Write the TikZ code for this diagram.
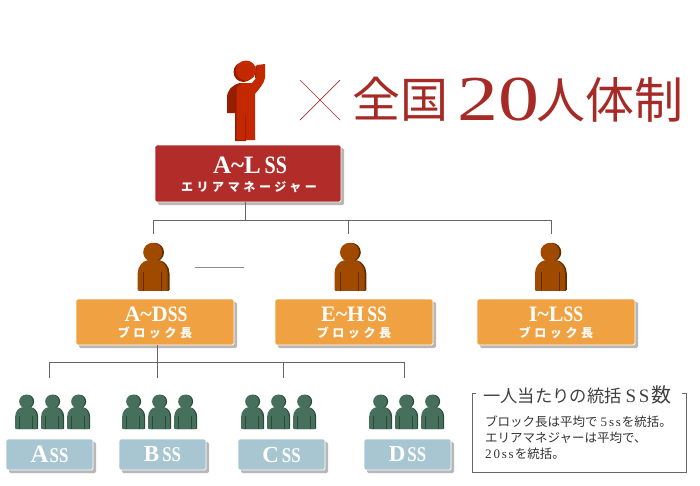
\documentclass[tikz,border=0pt]{standalone}
\usepackage{fontspec}
\usetikzlibrary{shadows}
\setmainfont{Liberation Serif}
\newfontfamily\jp{Noto Sans CJK JP}
\newfontfamily\jpwide[LetterSpace=30]{Noto Sans CJK JP}
\newfontfamily\ssf[FakeStretch=0.8]{Liberation Serif}
\newfontfamily\numf[FakeStretch=1.28]{Liberation Serif}
\newfontfamily\wider[LetterSpace=14]{Liberation Serif}
\definecolor{redbox}{HTML}{B22D2A}
\definecolor{orangebox}{HTML}{F0A243}
\definecolor{bluebox}{HTML}{A8C6D2}
\definecolor{titlered}{HTML}{A62B26}
\definecolor{linegray}{HTML}{666666}
\definecolor{orangep}{HTML}{A04A00}
\definecolor{orangepd}{HTML}{5E2E00}
\definecolor{greenp}{HTML}{47705C}
\definecolor{greenpd}{HTML}{2A4A3A}
\definecolor{redpf}{HTML}{C32800}
\definecolor{redpd}{HTML}{961E00}
\newcommand{\personshape}[4]{%
 \begin{scope}[shift={(#1,#2)},scale=#3]
  \fill[#4] (0,0) circle (9.5);
  \fill[#4,rounded corners=1] (-15,38.5) -- (-15,22) .. controls (-15,14) and (-10,9) .. (-5,8) -- (5,8) .. controls (10,9) and (15,14) .. (15,22) -- (15,38.5) -- cycle;
 \end{scope}}
\newcommand{\person}[5]{%
 \personshape{#1+1.8*#3}{#2}{#3}{#5}%
 \personshape{#1}{#2}{#3}{#4}%
 \begin{scope}[shift={(#1,#2)},scale=#3]
  \draw[#5,line width=0.8pt] (-9,20) -- (-9,38.5) (9,20) -- (9,38.5);
 \end{scope}}
\tikzset{
 x=1pt,y=-1pt,
 boxbase/.style={draw=white,line width=0.8pt,rounded corners=1.5pt,inner sep=0pt,text=white,align=center,
   drop shadow={shadow xshift=3pt,shadow yshift=-3pt,opacity=0.28,fill=black}},
 redb/.style={boxbase,fill=redbox,minimum width=186pt,minimum height=57pt},
 orangeb/.style={boxbase,fill=orangebox,minimum width=158pt,minimum height=46pt},
 blueb/.style={boxbase,fill=bluebox,minimum width=87pt,minimum height=31pt},
 conn/.style={draw=linegray,line width=0.7pt},
 ttl/.style={text=titlered,inner sep=0pt,anchor=center},
 wlab/.style={text=white,inner sep=0pt},
 wsub/.style={text=white,inner sep=0pt,font=\jpwide\bfseries\fontsize{12}{12}\selectfont},
}
\newcommand{\lab}[3]{{\fontsize{#1}{#1}\selectfont\bfseries #2}{\fontsize{#3}{#3}\selectfont\bfseries\ssf SS}}
\begin{document}
\begin{tikzpicture}
\useasboundingbox (0,0) rectangle (700,485);
% red figure
\fill[redpd] (243.5,72) circle (10);
\fill[redpd] (227,113) -- (227,98) .. controls (227,90) and (232,85) .. (240,83) -- (246,83) -- (246,141) -- (235,141) -- (235,113) -- cycle;
\fill[redpd] (255,78) -- (255.5,66) -- (258,65) -- (258,78) -- cycle;
\fill[redpf] (246,70.5) circle (10);
\fill[redpf] (236.5,140) -- (236.5,92) .. controls (236.5,86) and (240,83) .. (245,83) -- (252,83) -- (256,78) -- (257,65) -- (265,64) -- (265,78) .. controls (264,84) and (258,90) .. (255,94) -- (255,140) -- (246,140) -- (246,115) -- (245,115) -- (245,140) -- cycle;
% cross
\coordinate (x1) at (300,80); \coordinate (x2) at (340,120);
\coordinate (x3) at (340,80); \coordinate (x4) at (300,120);
\draw[titlered,line width=0.7pt] (x1) -- (x2) (x3) -- (x4);
% title
\node[ttl,font=\jp\fontsize{48}{48}\selectfont] (tzen) at (400.5,99.5) {全国};
\node[ttl,font=\numf\fontsize{64}{64}\selectfont] (tnum) at (498,99.5) {20};
\node[ttl,font=\jp\fontsize{49}{49}\selectfont] (tnin) at (610,99.5) {人体制};
% orange persons
\person{152.7}{252.3}{1}{orangep}{orangepd}
\person{349.5}{252.3}{1}{orangep}{orangepd}
\person{550}{252.3}{1}{orangep}{orangepd}
% green persons
\foreach \c in {26,52,78,133,159,185,252,278,304,380,406,432}
  {\person{\c}{401.5}{0.72}{greenp}{greenpd}}
% boxes
\node[redb] (red) at (248,173.5) {};
\node[wlab] (redt) at (250,165) {\lab{25}{A\string~L\kern4pt}{25}};
\node[wsub] (reds) at (249,187) {エリアマネージャー};
\node[orangeb] (oa) at (155,322) {};
\node[orangeb] (oe) at (354,322) {};
\node[orangeb] (oi) at (556,322) {};
\node[wlab] (oat) at (156,314) {\lab{22}{A\string~D}{22}};
\node[wlab] (oet) at (354,314) {\lab{22}{E\string~H\kern3pt}{22}};
\node[wlab] (oit) at (556,314) {\lab{22}{I\string~L}{22}};
\node[wsub] (oas) at (155,332.5) {ブロック長};
\node[wsub] (oes) at (354,332.5) {ブロック長};
\node[wsub] (ois) at (556,332.5) {ブロック長};
\node[blueb] (ba) at (49.5,454.5) {\lab{25}{A\kern1pt}{21}};
\node[blueb] (bb) at (162.5,454.5) {\lab{23}{B\kern3pt}{21}};
\node[blueb] (bc) at (281.5,454.5) {\lab{23}{C\kern3pt}{21}};
\node[blueb] (bd) at (407.5,454.5) {\lab{23}{D\kern2pt}{21}};
% connectors
\coordinate (j1) at (245,220); \coordinate (s1) at (245,202);
\coordinate (l1) at (153,220); \coordinate (l1e) at (153,234);
\coordinate (m1) at (348,220); \coordinate (m1e) at (348,234);
\coordinate (r1) at (551,220); \coordinate (r1e) at (551,234);
\draw[conn] (s1) -- (j1);
\draw[conn] (l1e) -- (l1) -- (r1) -- (r1e);
\draw[conn] (m1) -- (m1e);
\coordinate (s2) at (157.5,345); \coordinate (j2) at (157.5,362);
\coordinate (a2) at (49.5,362); \coordinate (a2e) at (49.5,378);
\coordinate (b2e) at (157.5,378);
\coordinate (c2) at (283,362); \coordinate (c2e) at (283,378);
\coordinate (d2) at (404.5,362); \coordinate (d2e) at (404.5,378);
\draw[conn] (s2) -- (b2e);
\draw[conn] (a2e) -- (a2) -- (d2) -- (d2e);
\draw[conn] (c2) -- (c2e);
\coordinate (st1) at (195,267); \coordinate (st2) at (244,267);
\draw[draw=black!45,line width=1pt] (st1) -- (st2);
% legend
\coordinate (k1) at (476,393.5); \coordinate (k2) at (472,393.5); \coordinate (k3) at (472,472);
\coordinate (k4) at (686,472); \coordinate (k5) at (686,393.5); \coordinate (k6) at (682,393.5);
\draw[draw=linegray,line width=0.7pt] (k1) -- (k2) -- (k3) -- (k4) -- (k5) -- (k6);
\node[anchor=west,inner sep=0pt,text=black!75,font=\jp\fontsize{17.3}{17.3}\selectfont] (lt) at (483,395) {一人当たりの統括\kern4pt{\fontsize{19}{19}\selectfont\wider SS}\kern2pt{\fontsize{20}{20}\selectfont 数}};
\node[anchor=north west,inner sep=0pt,text=black!80,align=left,font=\jp\fontsize{12.5}{16}\selectfont] (lb) at (485,416) {ブロック長は平均で\kern3pt{\fontsize{13}{13}\selectfont\wider 5ss}\kern1pt を統括。\\エリアマネジャーは平均で、\\{\fontsize{13}{13}\selectfont\wider 20ss}\kern1pt を統括。};
\end{tikzpicture}
\end{document}
